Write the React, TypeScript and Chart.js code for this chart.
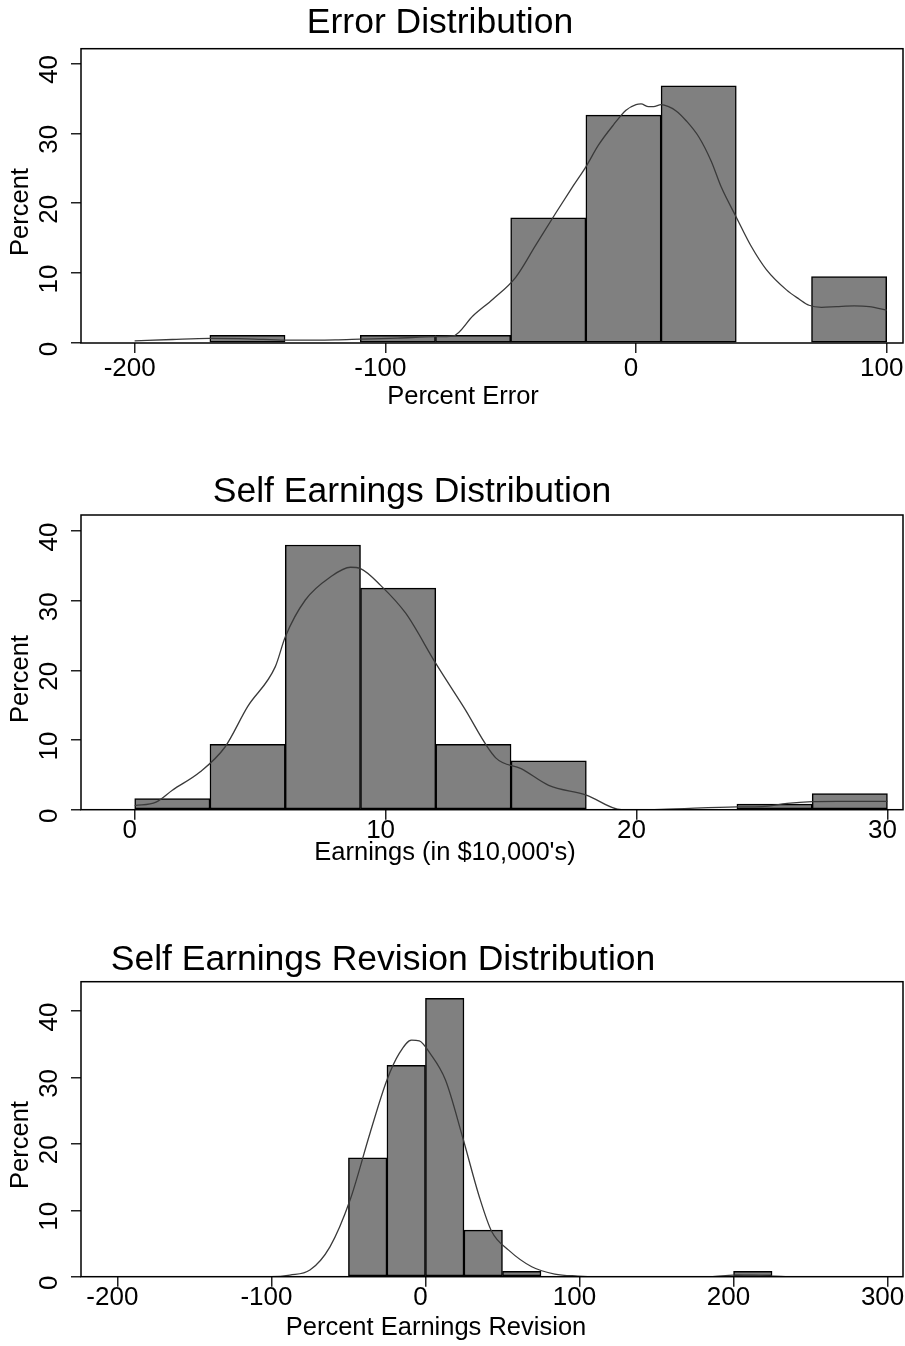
import React, { useEffect, useRef } from 'react';
import { Chart, registerables } from 'chart.js';

Chart.register(...registerables);

const FONT = '"Liberation Sans", Arial, Helvetica, sans-serif';

// ---------- Chart 1: Error Distribution ----------
const errTitle = 'Error Distribution';
const errXTitle = 'Percent Error';
const errBinStart = [-170, -110, -80, -50, -20, 10, 70];
const errBinPct = [1.1, 1.1, 1.1, 17.9, 32.6, 36.8, 9.5];
const errBinWidth = 30;
const errKdeX = [-200, -185, -170, -155, -140, -120, -110, -95, -80, -73, -65, -57, -48, -40, -32, -25, -20, -15, -9, -4, 0, 2, 5, 7, 10, 13, 16, 20, 25, 30, 34, 40, 46, 52, 60, 65, 69, 74, 80, 87, 93, 100];
const errKdeY = [0.3, 0.5, 0.65, 0.6, 0.4, 0.45, 0.55, 0.7, 0.9, 1.0, 3.9, 6.3, 9.4, 14.0, 18.6, 22.5, 25.2, 28.3, 31.2, 33.3, 34.1, 34.2, 33.8, 33.8, 34.1, 33.8, 33.2, 31.8, 29.5, 26.0, 22.3, 18.0, 13.8, 10.5, 7.6, 6.3, 5.4, 5.1, 5.2, 5.3, 5.2, 4.7];
const errXTicks = [-200, -100, 0, 100];

// ---------- Chart 2: Self Earnings Distribution ----------
const earnTitle = 'Self Earnings Distribution';
const earnXTitle = "Earnings (in $10,000's)";
const earnBinStart = [0, 3, 6, 9, 12, 15, 24, 27];
const earnBinPct = [1.6, 9.4, 38.0, 31.8, 9.4, 7.0, 0.8, 2.3];
const earnBinWidth = 3;
const earnKdeX = [0, 0.85, 1.5, 2.6, 3.6, 4.5, 5.6, 6.0, 6.8, 7.8, 8.6, 9.0, 9.8, 10.8, 12.0, 13.1, 14.4, 15.4, 16.5, 18.0, 19.4, 20, 21, 24, 25, 26, 27, 28, 30];
const earnKdeY = [0.6, 1.1, 2.8, 5.4, 9.0, 14.8, 20.5, 24.8, 30.1, 33.4, 34.8, 34.6, 32.2, 28.2, 21.0, 14.8, 7.4, 5.9, 3.5, 2.1, 0, 0, 0.05, 0.4, 0.45, 0.9, 1.15, 1.2, 1.2];
const earnXTicks = [0, 10, 20, 30];

// ---------- Chart 3: Self Earnings Revision Distribution ----------
const revTitle = 'Self Earnings Revision Distribution';
const revXTitle = 'Percent Earnings Revision';
const revBinStart = [-50, -25, 0, 25, 50, 200];
const revBinPct = [17.9, 31.8, 41.9, 7.0, 0.8, 0.8];
const revBinWidth = 25;
const revKdeX = [-200, -100, -88, -75, -62, -49, -36, -25, -17, -9, -4, 3, 13, 24, 35, 43, 54, 69, 84, 99, 110, 185, 200, 212, 226, 240, 300];
const revKdeY = [0, 0, 0.25, 1.0, 4.5, 11.5, 21.6, 29.6, 33.6, 35.6, 35.5, 33.6, 29.6, 21.1, 12.0, 6.8, 4.0, 1.5, 0.4, 0.1, 0, 0, 0.25, 0.2, 0.1, 0, 0];
const revXTicks = [-200, -100, 0, 100, 200, 300];

const yTicks = [0, 10, 20, 30, 40];
const yTitle = 'Percent';

type Spec = {
  title: string;
  xTitle: string;
  binStart: number[];
  binPct: number[];
  binWidth: number;
  kdeX: number[];
  kdeY: number[];
  xTicks: number[];
  xMin: number;
  xMax: number;
  yMax: number;
  top: number;
  height: number;
  areaTop: number;
  areaBottom: number;
  titleX: number;
  titleY: number;
  xTitleX: number;
  xTitleY: number;
  yTitleY: number;
  xTickPad: number;
};

const specs: Spec[] = [
  {
    title: errTitle, xTitle: errXTitle, binStart: errBinStart, binPct: errBinPct, binWidth: errBinWidth,
    kdeX: errKdeX, kdeY: errKdeY, xTicks: errXTicks, xMin: -221.4, xMax: 106.5, yMax: 42.1,
    top: 0, height: 440, areaTop: 48.7, areaBottom: 343,
    titleX: 440, titleY: 33, xTitleX: 463, xTitleY: 404, yTitleY: 212, xTickPad: 2.5,
  },
  {
    title: earnTitle, xTitle: earnXTitle, binStart: earnBinStart, binPct: earnBinPct, binWidth: earnBinWidth,
    kdeX: earnKdeX, kdeY: earnKdeY, xTicks: earnXTicks, xMin: -2.14, xMax: 30.62, yMax: 42.3,
    top: 440, height: 460, areaTop: 75, areaBottom: 369.7,
    titleX: 412, titleY: 62, xTitleX: 445, xTitleY: 420, yTitleY: 239, xTickPad: -2,
  },
  {
    title: revTitle, xTitle: revXTitle, binStart: revBinStart, binPct: revBinPct, binWidth: revBinWidth,
    kdeX: revKdeX, kdeY: revKdeY, xTicks: revXTicks, xMin: -223.6, xMax: 310, yMax: 44.4,
    top: 900, height: 446, areaTop: 81.7, areaBottom: 376.7,
    titleX: 383, titleY: 70, xTitleX: 436, xTitleY: 435, yTitleY: 245, xTickPad: -2,
  },
];

const framePlugin = {
  id: 'plotFrame',
  afterDatasetsDraw(chart: any) {
    const { ctx, chartArea: a } = chart;
    ctx.save();
    ctx.strokeStyle = '#000';
    ctx.lineWidth = 1.5;
    ctx.strokeRect(a.left, a.top, a.right - a.left, a.bottom - a.top);
    ctx.restore();
  },
};

function makeTextPlugin(spec: Spec) {
  return {
    id: 'stataTexts',
    afterDraw(chart: any) {
      const ctx = chart.ctx;
      ctx.save();
      ctx.fillStyle = '#000';
      ctx.textAlign = 'center';
      ctx.textBaseline = 'alphabetic';
      ctx.font = `35.5px ${FONT}`;
      ctx.fillText(spec.title, spec.titleX, spec.titleY);
      ctx.font = `25.5px ${FONT}`;
      ctx.fillText(spec.xTitle, spec.xTitleX, spec.xTitleY);
      ctx.translate(21, spec.yTitleY);
      ctx.rotate(-Math.PI / 2);
      ctx.textBaseline = 'middle';
      ctx.fillText(yTitle, 0, 0);
      ctx.restore();
    },
  };
}

function Histogram({ spec }: { spec: Spec }) {
  const ref = useRef<HTMLCanvasElement | null>(null);

  useEffect(() => {
    if (!ref.current) return;
    const bars = spec.binStart.map((s, i) => ({ x: s + spec.binWidth / 2, y: spec.binPct[i] }));
    const kde = spec.kdeX.map((x, i) => ({ x, y: spec.kdeY[i] }));
    const tickFont = { family: FONT, size: 26, lineHeight: 1 };
    const chart = new Chart(ref.current, {
      type: 'bar',
      data: {
        datasets: [
          {
            type: 'line',
            data: kde,
            borderColor: '#3a3a3a',
            borderWidth: 1.3,
            pointRadius: 0,
            fill: false,
            cubicInterpolationMode: 'monotone',
            order: 0,
          } as any,
          {
            type: 'bar',
            data: bars,
            backgroundColor: '#808080',
            borderColor: '#000',
            borderWidth: 1.5,
            borderSkipped: false,
            barPercentage: 1,
            categoryPercentage: 1,
            order: 1,
          } as any,
        ],
      },
      options: {
        responsive: false,
        animation: false,
        events: [],
        layout: { padding: { top: spec.areaTop, left: 0, right: 2, bottom: 0 } },
        plugins: {
          legend: { display: false },
          title: { display: false },
          tooltip: { enabled: false },
        },
        scales: {
          x: {
            type: 'linear',
            min: spec.xMin,
            max: spec.xMax,
            offset: false,
            grid: {
              display: true,
              drawOnChartArea: false,
              drawTicks: true,
              tickLength: 10,
              color: '#222',
              lineWidth: 1.5,
              offset: false,
            },
            border: { display: false },
            ticks: {
              font: tickFont,
              color: '#000',
              padding: spec.xTickPad,
              maxRotation: 0,
              minRotation: 0,
              autoSkip: false,
              labelOffset: -5,
            },
            afterBuildTicks: (s: any) => {
              s.ticks = spec.xTicks.map((v) => ({ value: v }));
            },
            afterFit: (s: any) => {
              s.height = spec.height - spec.areaBottom;
              s.paddingLeft = 0;
              s.paddingRight = 0;
              s.paddingTop = 0;
              s.paddingBottom = 0;
            },
          },
          y: {
            type: 'linear',
            min: 0,
            max: spec.yMax,
            grid: {
              display: true,
              drawOnChartArea: false,
              drawTicks: true,
              tickLength: 10,
              color: '#222',
              lineWidth: 1.5,
            },
            border: { display: false },
            ticks: {
              font: tickFont,
              color: '#000',
              minRotation: 90,
              maxRotation: 90,
              crossAlign: 'center',
              padding: 7,
              labelOffset: 6,
              autoSkip: false,
            },
            afterBuildTicks: (s: any) => {
              s.ticks = yTicks.map((v) => ({ value: v }));
            },
            afterFit: (s: any) => {
              s.width = 81;
              s.paddingTop = 0;
              s.paddingBottom = 0;
              s.paddingLeft = 0;
              s.paddingRight = 0;
            },
          },
        },
      } as any,
      plugins: [framePlugin, makeTextPlugin(spec)],
    });
    return () => chart.destroy();
  }, [spec]);

  return (
    <canvas
      ref={ref}
      width={905}
      height={spec.height}
      style={{ position: 'absolute', left: 0, top: spec.top, width: 905, height: spec.height, display: 'block' }}
    />
  );
}

export default function App() {
  return (
    <div style={{ position: 'absolute', left: 0, top: 0, width: 905, height: 1346, background: '#fff' }}>
      {specs.map((s, i) => (
        <Histogram key={i} spec={s} />
      ))}
    </div>
  );
}
